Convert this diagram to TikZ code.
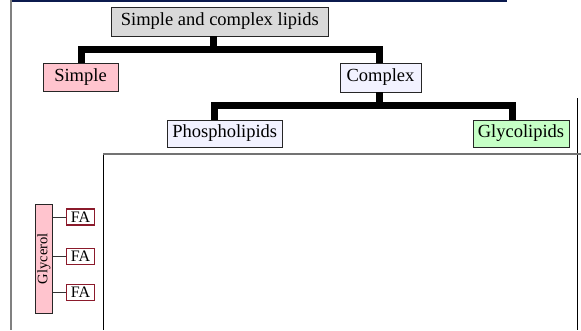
\documentclass[tikz,border=0pt]{standalone}
\usepackage{fontspec}
\setmainfont{Liberation Serif}
\usetikzlibrary{calc}
\definecolor{navyline}{HTML}{0B1A4E}
\definecolor{framegray}{HTML}{808080}
\definecolor{titlegray}{HTML}{D9D9D9}
\definecolor{pinkfill}{HTML}{FFC4CE}
\definecolor{lavfill}{HTML}{F2F2FF}
\definecolor{greenfill}{HTML}{C6FFC6}
\definecolor{faborder}{HTML}{8B1A2B}
\tikzset{
  box/.style={draw=black!85, line width=0.9pt, inner sep=0pt, font=\fontsize{18.5}{22}\selectfont},
  bar/.style={line width=7pt, line join=miter},
  fabox/.style={draw=faborder, line width=1.2pt, fill=white, inner sep=0pt, minimum width=28pt, minimum height=16pt, font=\fontsize{16}{18}\selectfont},
  thin/.style={draw=black!80, line width=1pt}
}
\begin{document}
\begin{tikzpicture}[x=1pt,y=-1pt]
\useasboundingbox (0,0) rectangle (581,330);
% slide frame
\draw[navyline, line width=2pt] (11,1) -- (507,1);
\draw[framegray, line width=1.5pt] (11,0) -- (11,330);
% big rectangle
\draw[black, line width=1pt] (103.3,153) -- (103.3,330);
\draw[black, line width=1pt] (577,98) -- (577,330);
\draw[black!55, line width=2pt] (103,154) -- (581,154);
% hierarchy
\node[box, fill=titlegray, minimum width=216.5pt, minimum height=29pt] (title) at (219.8,21.5) {Simple and complex lipids};
\node[box, fill=pinkfill, minimum width=75pt, minimum height=28pt] (simple) at (80.5,77) {Simple};
\node[box, fill=lavfill, minimum width=81pt, minimum height=29pt] (complex) at (380.5,77.5) {Complex};
\node[box, fill=lavfill, minimum width=115.5pt, minimum height=27pt] (phospho) at (224.75,133.5) {Phospholipids};
\node[box, fill=greenfill, minimum width=96pt, minimum height=27pt] (glyco) at (521,133.5) {Glycolipids};
\coordinate (b1) at (213,49);
\coordinate (b2) at (379,105.5);
\coordinate (ts) at ($(title.south)+(-6.8,0)$);
\coordinate (sn) at ($(simple.north)+(0.5,0)$);
\coordinate (cn) at ($(complex.north)+(-1.5,0)$);
\coordinate (cs) at ($(complex.south)+(-1.5,0)$);
\coordinate (pn) at ($(phospho.north)+(-10.25,0)$);
\coordinate (gn) at ($(glyco.north)+(-9,0)$);
\draw[bar] (ts) -- (b1);
\draw[bar] (sn) -- (sn |- b1) -- (cn |- b1) -- (cn);
\draw[bar] (cs) -- (b2);
\draw[bar] (pn) -- (pn |- b2) -- (gn |- b2) -- (gn);
% glycerol
\node[draw=black!85, line width=1pt, fill=pinkfill, minimum width=17.7pt, minimum height=109pt, inner sep=0pt] (glyc) at (43.85,258.8) {};
\node[rotate=90, font=\fontsize{14.5}{16}\selectfont, inner sep=0pt] (glyctext) at (glyc.center) {Glycerol};
\node[fabox] (fa1) at (80.5,217) {FA};
\node[fabox] (fa2) at (80.5,256.7) {FA};
\node[fabox] (fa3) at (80.5,292.5) {FA};
\draw[thin] (fa1.west) -- (fa1.west -| glyc.east);
\draw[thin] (fa2.west) -- (fa2.west -| glyc.east);
\draw[thin] (fa3.west) -- (fa3.west -| glyc.east);
\end{tikzpicture}
\end{document}
